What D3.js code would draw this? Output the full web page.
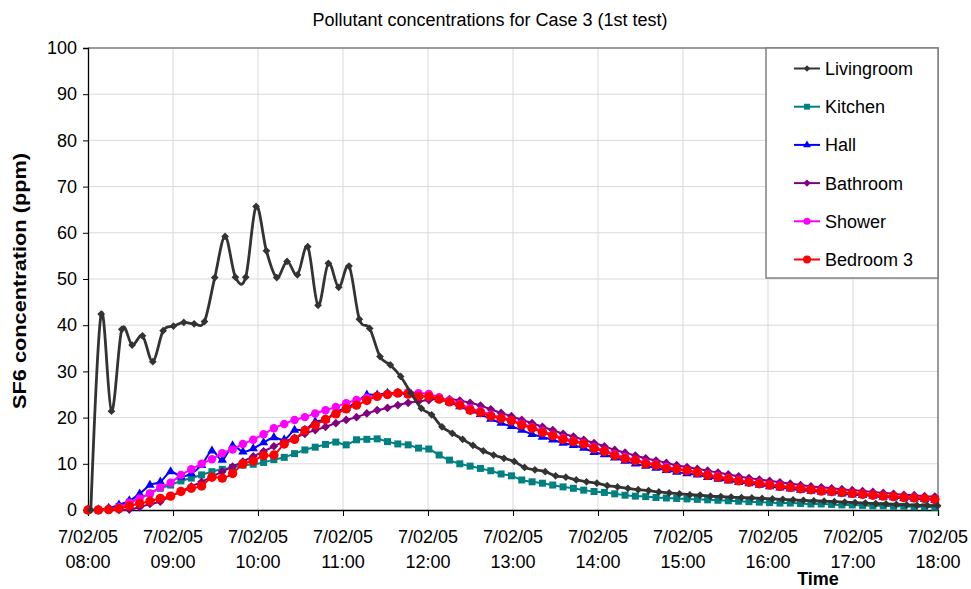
<!DOCTYPE html>
<html>
<head>
<meta charset="utf-8">
<script src="https://cdn.jsdelivr.net/npm/d3@7"></script>
<style>
  body { margin: 0; background: #fff; }
  text { font-family: Arial, "Liberation Sans", sans-serif; }
</style>
</head>
<body>
<div id="chart"></div>
<script>
// sampling : one reading every ~7.3 min, livingroom logger ~2 min later
var startTime = new Date(2005, 1, 7, 8, 0);
var livingStart = new Date(2005, 1, 7, 8, 2);
var stepMinutes = 7.29;

var seriesNames = ["Livingroom", "Kitchen", "Hall", "Bathroom", "Shower", "Bedroom 3"];

var livingroom = [0, 42.4, 21.4, 39.1, 35.7, 37.7, 32.1, 38.8, 39.8, 40.6, 40.3, 40.8, 50.3, 59.2, 50.4, 50.4, 65.7, 56.1, 50.3, 53.8, 50.9, 57.0, 44.3, 53.4, 48.2, 52.8, 41.3, 39.3, 33.2, 31.4, 28.9,
  25.3, 22.0, 20.6, 18.0, 16.6, 15.3, 14.0, 12.8, 11.9, 11.2, 10.5, 9.2, 8.7, 8.3, 7.4, 7.1, 6.5, 6.1, 5.8, 5.3, 5.0, 4.7, 4.4, 4.2, 3.9, 3.7, 3.5,
  3.3, 3.2, 3.0, 2.9, 2.8, 2.7, 2.6, 2.5, 2.4, 2.3, 2.2, 2.1, 2.0, 1.9, 1.8, 1.7, 1.6, 1.5, 1.4, 1.3, 1.2, 1.1, 1.0, 1.0, 0.9];

var kitchen = [0, 0, 0.1, 0.8, 1.7, 2.5, 3.6, 4.7, 5.4, 6.3, 6.9, 7.6, 8.3, 8.8, 9.2, 9.7, 9.9, 10.3,
  10.9, 11.4, 12.2, 13.0, 13.6, 14.2, 14.7, 14.1, 15.2, 15.3, 15.4, 14.8, 14.3, 14.1, 13.4, 13.2, 11.9,
  10.8, 10.0, 9.5, 9.0, 8.5, 7.8, 7.4, 6.5, 6.1, 5.8, 5.4, 5.0, 4.7, 4.3, 4.0, 3.8, 3.5, 3.2, 3.0, 2.9, 2.7, 2.6, 2.5,
  2.4, 2.3, 2.2, 2.1, 2.0, 1.9, 1.8, 1.7, 1.6, 1.5, 1.5, 1.4, 1.3, 1.3, 1.2, 1.1, 1.1, 1.0, 0.9, 0.9, 0.8, 0.8, 0.7, 0.7, 0.6];

var hall = [0, 0.1, 0.4, 1.1, 2.0, 3.5, 5.4, 6.1, 8.3, 7.2, 7.9, 9.7, 12.8, 10.8, 13.9, 12.6, 13.3, 14.6,
  15.7, 15.2, 17.3, 17.3, 19.1, 19.5, 21.3, 22.0, 23.4, 24.9, 24.9, 25.3, 25.3, 25.0, 24.7, 24.4, 24.0,
  23.3, 22.4, 21.5, 20.7, 19.7, 18.8, 18.1, 17.3, 16.4, 15.8, 15.2, 14.5, 14.0, 13.4, 12.5, 12.0, 11.3, 10.6, 10.0, 9.5, 9.1, 8.6, 8.2,
  7.9, 7.6, 7.1, 6.7, 6.3, 6.0, 5.7, 5.4, 5.1, 4.8, 4.6, 4.3, 4.1, 3.9, 3.7, 3.5, 3.3, 3.2, 3.0, 2.8, 2.7, 2.5, 2.4, 2.3, 2.1];

var bathroom = [0, 0, 0, 0, 0.1, 0.6, 1.3, 1.8, 3.0, 4.0, 5.1, 6.1, 7.2, 8.3, 9.4, 10.5, 11.6, 12.7,
  13.8, 14.8, 15.6, 16.5, 17.3, 18.0, 18.8, 19.5, 20.1, 20.9, 21.6, 22.1, 22.7, 23.2, 23.5, 23.8, 24.0,
  24.0, 23.7, 23.2, 22.6, 21.8, 21.0, 20.3, 19.5, 18.8, 18.0, 17.3, 16.5, 15.9, 15.2, 14.5, 13.8, 13.0, 12.4, 11.8, 11.2, 10.7, 10.2, 9.7,
  9.3, 8.9, 8.5, 8.1, 7.7, 7.3, 6.9, 6.6, 6.3, 6.0, 5.7, 5.4, 5.1, 4.9, 4.7, 4.5, 4.3, 4.1, 3.9, 3.7, 3.5, 3.3, 3.2, 3.0, 2.9];

var shower = [0, 0, 0.1, 0.6, 1.6, 2.5, 3.6, 4.9, 5.9, 7.6, 8.8, 10.0, 11.0, 12.3, 13.1, 14.3, 15.2, 16.4,
  17.7, 18.6, 19.5, 20.1, 20.9, 21.6, 22.3, 23.1, 23.8, 24.3, 24.7, 25.0, 25.4, 25.5, 25.3, 25.1, 24.4,
  23.7, 23.0, 22.0, 21.4, 20.6, 20.0, 19.5, 18.7, 17.9, 17.1, 16.3, 15.6, 15.0, 14.5, 13.6, 12.9, 12.1, 11.4, 10.9, 10.3, 9.9, 9.3, 9.0,
  8.6, 8.2, 7.7, 7.3, 6.9, 6.5, 6.2, 5.9, 5.6, 5.3, 5.0, 4.8, 4.5, 4.3, 4.1, 3.9, 3.7, 3.5, 3.3, 3.1, 3.0, 2.8, 2.7, 2.5, 2.2];

var bedroom3 = [0, 0, 0.1, 0.3, 0.9, 1.4, 1.9, 2.5, 3.0, 4.0, 4.7, 5.2, 7.1, 6.9, 7.9, 10.0, 10.6, 11.8,
  11.9, 14.3, 15.3, 17.2, 18.4, 19.6, 20.8, 21.9, 22.7, 23.7, 24.6, 25.0, 25.3, 25.1, 24.6, 24.6, 24.0,
  23.4, 22.7, 21.6, 21.1, 20.3, 19.8, 19.3, 18.4, 17.7, 16.8, 16.1, 15.3, 14.8, 14.3, 13.3, 12.7, 11.8, 11.1, 10.7, 10.0, 9.7, 9.0, 8.8,
  8.5, 8.1, 7.5, 7.1, 6.7, 6.3, 6.0, 5.7, 5.4, 5.1, 4.9, 4.6, 4.4, 4.1, 4.0, 3.8, 3.6, 3.4, 3.2, 3.0, 2.9, 2.7, 2.6, 2.5, 2.3];

var yTicks = [0, 10, 20, 30, 40, 50, 60, 70, 80, 90, 100];

// size of the page
var width = 971;
var height = 589;
var margin = { top: 48, right: 33, bottom: 79, left: 88 };

var svg = d3.select('#chart')
  .append('svg')
  .attr('width', width)
  .attr('height', height);

var x = d3.scaleTime()
  .domain([startTime, d3.timeHour.offset(startTime, 10)])
  .range([margin.left, width - margin.right]);

var y = d3.scaleLinear()
  .domain([0, 100])
  .range([height - margin.bottom, margin.top]);

function times(start, n) {
  return d3.range(n).map(function(i) { return new Date(+start + i * stepMinutes * 60000); });
}

// series in drawing order (livingroom on top)
var series = [
  { name: "Kitchen", values: kitchen, start: startTime, color: "#008080", shape: "square", size: 49, width: 2 },
  { name: "Hall", values: hall, start: startTime, color: "#0000ff", shape: "triangle", size: 38, width: 2 },
  { name: "Bathroom", values: bathroom, start: startTime, color: "#800080", shape: "diamond", size: 38, width: 2 },
  { name: "Shower", values: shower, start: startTime, color: "#ff00ff", shape: "circle", size: 56, width: 2 },
  { name: "Bedroom 3", values: bedroom3, start: startTime, color: "#ff0000", shape: "circle", size: 70, width: 2 },
  { name: "Livingroom", values: livingroom, start: livingStart, color: "#333333", shape: "diamond", size: 30, width: 2.8 }
];

var symbolType = {
  square: d3.symbolSquare,
  diamond: d3.symbolSquare,
  triangle: d3.symbolTriangle,
  circle: d3.symbolCircle
};

// gridlines
var hourTicks = x.ticks(d3.timeHour.every(1));

svg.append('g').selectAll('line')
  .data(yTicks.slice(1))
  .enter().append('line')
  .attr('x1', margin.left).attr('x2', width - margin.right)
  .attr('y1', function(d) { return y(d); }).attr('y2', function(d) { return y(d); })
  .attr('stroke', '#d9d9d9').attr('stroke-width', 1);

svg.append('g').selectAll('line')
  .data(hourTicks.slice(1))
  .enter().append('line')
  .attr('x1', function(d) { return x(d); }).attr('x2', function(d) { return x(d); })
  .attr('y1', margin.top).attr('y2', height - margin.bottom)
  .attr('stroke', '#d9d9d9').attr('stroke-width', 1);

// frame top / right
svg.append('path')
  .attr('d', 'M' + margin.left + ',' + margin.top + 'H' + (width - margin.right) + 'V' + (height - margin.bottom))
  .attr('fill', 'none')
  .attr('stroke', '#808080')
  .attr('stroke-width', 1.5);

// axes
var yAxis = svg.append('g')
  .attr('transform', 'translate(' + margin.left + ',0)')
  .call(d3.axisLeft(y).tickValues(yTicks).tickSize(5).tickPadding(6));

var xAxis = svg.append('g')
  .attr('transform', 'translate(0,' + (height - margin.bottom) + ')')
  .call(d3.axisBottom(x).tickValues(hourTicks).tickSize(6).tickFormat(''));

[yAxis, xAxis].forEach(function(ax) {
  ax.select('.domain').attr('stroke', '#000').attr('stroke-width', 1.3);
  ax.selectAll('.tick line').attr('stroke', '#000');
});
yAxis.selectAll('.tick text').attr('font-size', 18).attr('fill', '#000')
  .attr('font-family', 'Arial, "Liberation Sans", sans-serif');

// two line time labels
var fmtDate = d3.timeFormat('%-d/%m/%y');
var fmtTime = d3.timeFormat('%H:%M');
var xLabels = svg.append('g').selectAll('text')
  .data(hourTicks)
  .enter().append('text')
  .attr('x', function(d) { return x(d); })
  .attr('text-anchor', 'middle')
  .attr('font-size', 18);
xLabels.append('tspan').attr('x', function(d) { return x(d); }).attr('y', 543).text(fmtDate);
xLabels.append('tspan').attr('x', function(d) { return x(d); }).attr('y', 568).text(fmtTime);

// lines + markers
var line = d3.line()
  .x(function(d) { return x(d.t); })
  .y(function(d) { return y(d.v); })
  .curve(d3.curveCardinal.tension(0));

series.forEach(function(s) {
  var ts = times(s.start, s.values.length);
  var pts = s.values.map(function(v, i) { return { t: ts[i], v: v }; });
  var g = svg.append('g');
  g.append('path')
    .datum(pts)
    .attr('d', line)
    .attr('fill', 'none')
    .attr('stroke', s.color)
    .attr('stroke-width', s.width);
  g.selectAll('path.mark')
    .data(pts)
    .enter().append('path')
    .attr('class', 'mark')
    .attr('d', d3.symbol().type(symbolType[s.shape]).size(s.size))
    .attr('transform', function(d) {
      return 'translate(' + x(d.t) + ',' + y(d.v) + ')' + (s.shape === 'diamond' ? ' rotate(45)' : '');
    })
    .attr('fill', s.color);
});

// titles
svg.append('text')
  .attr('x', 490).attr('y', 26)
  .attr('text-anchor', 'middle')
  .attr('font-size', 18)
  .text('Pollutant concentrations for Case 3 (1st test)');

svg.append('text')
  .attr('transform', 'translate(26,' + 281 + ') rotate(-90)')
  .attr('text-anchor', 'middle')
  .attr('font-size', 18)
  .attr('font-weight', 'bold')
  .attr('textLength', 256)
  .attr('lengthAdjust', 'spacingAndGlyphs')
  .text('SF6 concentration (ppm)');

svg.append('text')
  .attr('x', 818).attr('y', 585)
  .attr('text-anchor', 'middle')
  .attr('font-size', 18)
  .attr('font-weight', 'bold')
  .text('Time');

// legend
var legendX = 766, legendY = 48, legendW = 172, legendH = 230;
var rowH = 38.2;

svg.append('rect')
  .attr('x', legendX).attr('y', legendY)
  .attr('width', legendW).attr('height', legendH)
  .attr('fill', '#fff')
  .attr('stroke', '#808080')
  .attr('stroke-width', 1.5);

var legendOrder = seriesNames.map(function(n) {
  return series.filter(function(s) { return s.name === n; })[0];
});

var legend = svg.selectAll('.legend')
  .data(legendOrder)
  .enter().append('g')
  .attr('class', 'legend')
  .attr('transform', function(d, i) {
    return 'translate(' + legendX + ',' + (legendY + 20.5 + i * rowH) + ')';
  });

legend.append('line')
  .attr('x1', 28).attr('x2', 54)
  .attr('stroke', function(d) { return d.color; })
  .attr('stroke-width', 2);

legend.append('path')
  .attr('d', function(d) { return d3.symbol().type(symbolType[d.shape]).size(d.size * 0.7)(); })
  .attr('transform', function(d) { return 'translate(41,0)' + (d.shape === 'diamond' ? ' rotate(45)' : ''); })
  .attr('fill', function(d) { return d.color; });

legend.append('text')
  .attr('x', 59)
  .attr('y', 6.5)
  .attr('font-size', 18)
  .text(function(d) { return d.name; });
</script>
</body>
</html>
